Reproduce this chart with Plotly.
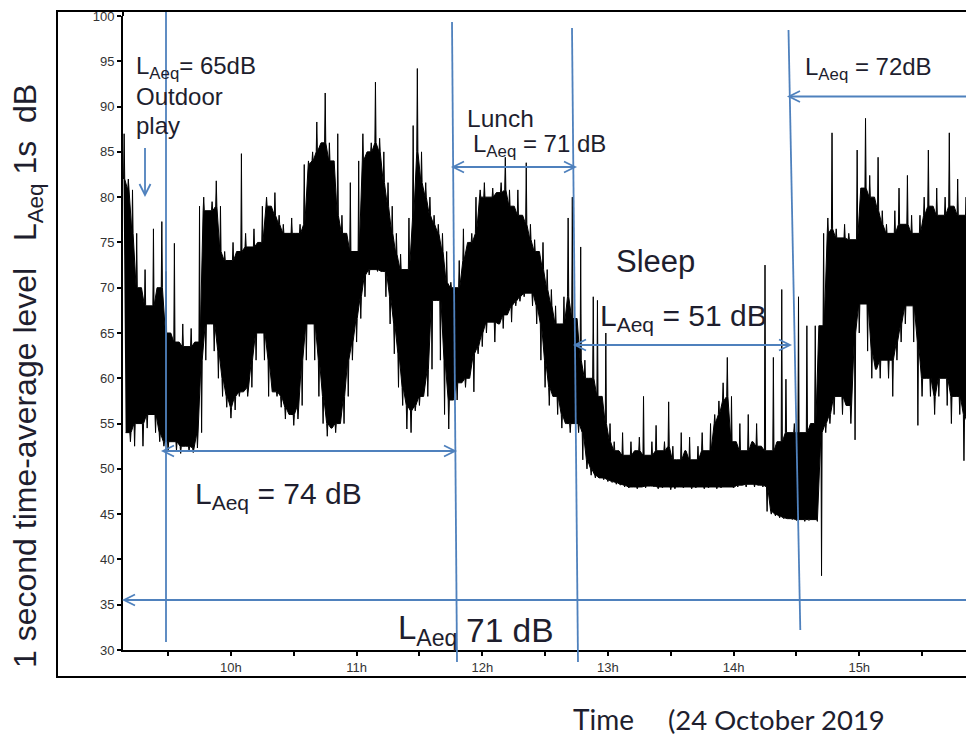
import plotly.graph_objects as go

# ---------------- data ----------------
# 1-second LAeq record, summarised per 2-minute slot: upper (hi) and lower (lo) level, dB
START_HOUR = 9.15          # first slot, 09:09
STEP_MIN = 2.0

hi = [
    87, 82, 80.8, 76, 70, 72, 68, 76.5, 70, 77.3,
    71.8, 65, 74.9, 64, 66, 63.5, 65.5, 64, 79, 80,
    78.5, 79.5, 81.8, 79, 74, 73, 75, 74, 84.8, 76,
    74.5, 76.5, 75, 79, 80, 79, 80.5, 78, 77, 76,
    77.7, 76, 77, 83.6, 84, 85, 88.3, 86, 91.5, 86,
    84, 87, 78, 76, 81.6, 74, 84, 87, 85, 86,
    92.7, 86.5, 85, 81.6, 79, 76, 73.7, 72, 77.7, 87.9,
    94.2, 85, 81.6, 80, 78, 77, 76, 74, 70.6, 70,
    73, 76.5, 75, 76, 80, 80.8, 81.6, 80, 81, 80.5,
    81.6, 84.4, 80.8, 79, 80.8, 78, 83.8, 77, 75.3, 74,
    75, 72, 69.8, 68, 66, 69, 77.7, 80, 66.6, 74.5,
    62, 60, 69, 68.6, 58, 65, 55, 53, 52, 54,
    51.5, 53, 52, 53.5, 58, 51.5, 53, 54.8, 52, 53,
    57.4, 52.5, 51, 54, 52, 53.5, 51, 52.5, 54, 52,
    55, 56, 57.5, 59.5, 62.3, 58, 53, 55, 52, 56,
    53, 55, 52.5, 72.5, 52, 62.3, 53, 69.8, 59.9, 54,
    55, 69, 54, 65.8, 55, 65.8, 65.8, 76, 77.7, 87.1,
    76.5, 75.5, 77, 76, 75.3, 85.2, 81, 88.7, 82.4, 80,
    84.4, 78.5, 77, 76, 78.5, 81, 77, 82.4, 78, 76,
    78, 80, 85.2, 79, 81, 78, 80, 87.1, 79, 82,
    78, 80,
]
lo = [
    54, 53, 52.5, 55, 52.5, 54.5, 56, 54, 53, 52.5,
    52, 53, 52, 51.7, 52.5, 52, 51.8, 52.3, 54, 62,
    66, 63, 60, 58, 56.8, 55.6, 56.5, 58, 58.5, 58,
    59, 62, 65, 62, 58, 58.5, 58, 56.8, 55.5, 56,
    54.8, 55.5, 57, 62, 66, 62, 58, 55, 53.6, 54.5,
    54, 55, 55, 58, 62, 64, 66.6, 69, 71.4, 72,
    71.8, 71.8, 69, 66, 62.7, 59, 57, 54.4, 54, 56.4,
    57, 58, 58, 61, 68.6, 62, 56, 54.4, 57.6, 57.6,
    59.5, 59, 60, 58.5, 62.7, 63.5, 65, 66.2, 64, 66,
    65.5, 67, 66.2, 68, 68.5, 69, 69.4, 68, 66, 62,
    59, 57, 58, 56, 54.5, 55, 54, 55, 54, 51,
    50, 49.3, 49, 49, 48.8, 48.6, 48.5, 48.3, 48.2, 48,
    47.9, 48, 47.8, 48, 47.9, 48.1, 48, 47.8, 47.9, 48,
    47.7, 47.8, 48, 47.9, 48, 47.8, 47.9, 48, 47.8, 47.9,
    48, 47.8, 47.9, 48, 48, 47.9, 48, 48.2, 48, 48.3,
    48, 48.2, 48, 45.3, 45, 44.8, 44.6, 44.5, 44.5, 44.4,
    44.3, 44.4, 44.2, 44.3, 44.4, 44.2, 38.2, 54, 55, 56,
    58, 56, 57, 55, 53.2, 65, 68.2, 63, 60, 61,
    60, 62, 60, 58, 62, 64, 66, 68, 64, 54.8,
    58, 60, 58, 56, 58, 60, 57, 55, 58, 56,
    50.9, 55,
]

hour_ticks = [9.5, 10, 10.5, 11, 11.5, 12, 12.5, 13, 13.5, 14, 14.5, 15, 15.5]
hour_labels = ["", "10h", "", "11h", "", "12h", "", "13h", "", "14h", "", "15h", ""]
db_ticks = [30, 35, 40, 45, 50, 55, 60, 65, 70, 75, 80, 85, 90, 95, 100]

# ---------------- geometry ----------------
W, H = 966, 738
ML, MR, MT, MB = 123, 0, 16, 88
PW, PH = W - ML - MR, H - MT - MB

def px(xpix):
    return (xpix - ML) / PW

def py(ypix):
    return (H - MB - ypix) / PH

BLUE = "#4f81bd"
TXT = "#1e1e2e"
FONT = "Liberation Sans, Arial, sans-serif"

# ---------------- signal: solid core with thin spikes ----------------
n = len(hi)
step_h = STEP_MIN / 60.0
w = step_h * 0.14          # half-width of a spike foot
t_hi = [START_HOUR + i * step_h for i in range(n)]
t_lo = [t + step_h / 2 for t in t_hi]

up_x, up_y = [], []
for i in range(n):
    core = min(hi[max(i - 1, 0)], hi[i], hi[min(i + 1, n - 1)])
    up_x += [t_hi[i] - w, t_hi[i], t_hi[i] + w]
    up_y += [core, hi[i], core]
dn_x, dn_y = [], []
for i in range(n - 1, -1, -1):
    core = max(lo[max(i - 1, 0)], lo[i], lo[min(i + 1, n - 1)])
    dn_x += [t_lo[i] + w, t_lo[i], t_lo[i] - w]
    dn_y += [core, lo[i], core]

fig = go.Figure()
fig.add_trace(go.Scatter(x=up_x + dn_x, y=up_y + dn_y, mode="lines",
                         fill="toself", fillcolor="black",
                         line=dict(color="black", width=1),
                         hoverinfo="skip", showlegend=False))

shapes = []

def seg(x0, y0, x1, y1, color=BLUE, width=1.8):
    shapes.append(dict(type="line", xref="paper", yref="paper",
                       x0=px(x0), y0=py(y0), x1=px(x1), y1=py(y1),
                       line=dict(color=color, width=width), layer="above"))

def chevron(tx, ty, direction, size=11, half=5.5):
    if direction == "left":
        pts = [(tx + size, ty - half), (tx, ty), (tx + size, ty + half)]
    elif direction == "right":
        pts = [(tx - size, ty - half), (tx, ty), (tx - size, ty + half)]
    else:  # down
        pts = [(tx - half, ty - size), (tx, ty), (tx + half, ty - size)]
    path = "M {},{} L {},{} L {},{}".format(
        px(pts[0][0]), py(pts[0][1]), px(pts[1][0]), py(pts[1][1]),
        px(pts[2][0]), py(pts[2][1]))
    shapes.append(dict(type="path", xref="paper", yref="paper", path=path,
                       line=dict(color=BLUE, width=1.8), layer="above"))

# outer frame
shapes.append(dict(type="rect", xref="paper", yref="paper",
                   x0=px(57), x1=px(990), y0=py(677), y1=py(11),
                   line=dict(color="black", width=2), layer="above"))
# y axis line continued to frame
seg(ML, 16, ML, 11, color="black", width=2)

# vertical period markers
seg(166, 12, 166, 642)
seg(452, 22, 457, 662)
seg(572, 28, 578, 662)
seg(788.5, 30, 800.3, 630)

# horizontal arrows
seg(163, 451, 455, 451); chevron(163, 451, "left"); chevron(455, 451, "right")
seg(453, 167, 575, 167); chevron(453, 167, "left"); chevron(575, 167, "right")
seg(575, 345, 790, 345); chevron(575, 345, "left"); chevron(790, 345, "right")
seg(789, 96.5, 980, 96.5); chevron(789, 96.5, "left")
seg(124, 600, 980, 600); chevron(124, 600, "left")
seg(145, 148, 145, 195); chevron(145, 195, "down")

annotations = []

def label(text, x, y, size, xanchor="left", family=FONT, angle=0):
    annotations.append(dict(text=text, xref="paper", yref="paper",
                            x=px(x), y=py(y), xanchor=xanchor, yanchor="middle",
                            showarrow=False, textangle=angle,
                            font=dict(family=family, size=size, color=TXT)))

label("L<sub>Aeq</sub>= 65dB", 134, 67, 24)
label("Outdoor", 134, 96, 24)
label("play", 134, 125, 24)
label("Lunch", 465, 118, 24.5)
label("L<sub>Aeq</sub> = 71 dB", 471, 146, 24)
label("Sleep", 614, 261, 31)
label("L<sub>Aeq</sub> = 51 dB", 598, 317, 30)
label("L<sub>Aeq</sub> = 74 dB", 193, 495, 30)
label("L<sub>Aeq</sub> = 72dB", 803, 68, 24)
label("L<sub>Aeq</sub>", 396, 630, 33)
label("71 dB", 464, 630, 33.5)
label("1 second time-average level   L<sub>Aeq</sub> 1s  dB", 27, 376, 32,
      xanchor="center", angle=-90)
label("Time", 571, 719, 28, family="Lato, Carlito, sans-serif")
label("(24 October 2019", 666, 719, 27.5, family="Lato, Carlito, sans-serif")

x_left = 9.141
x_right = x_left + PW / 125.66

fig.update_layout(
    width=W, height=H,
    margin=dict(l=ML, r=MR, t=MT, b=MB, pad=0),
    paper_bgcolor="white", plot_bgcolor="white",
    showlegend=False,
    shapes=shapes, annotations=annotations,
    xaxis=dict(range=[x_left, x_right], tickmode="array",
               tickvals=hour_ticks, ticktext=hour_labels,
               ticks="outside", ticklen=4, tickwidth=1.5, tickcolor="black",
               showline=True, linecolor="black", linewidth=2,
               showgrid=False, zeroline=False,
               tickfont=dict(family=FONT, size=13, color="#333")),
    yaxis=dict(range=[30, 100], tickmode="array", tickvals=db_ticks,
               ticks="outside", ticklen=4, tickwidth=1.5, tickcolor="black",
               showline=True, linecolor="black", linewidth=2,
               showgrid=False, zeroline=False,
               tickfont=dict(family=FONT, size=13, color="#333")),
)

fig.write_html("out.html")
